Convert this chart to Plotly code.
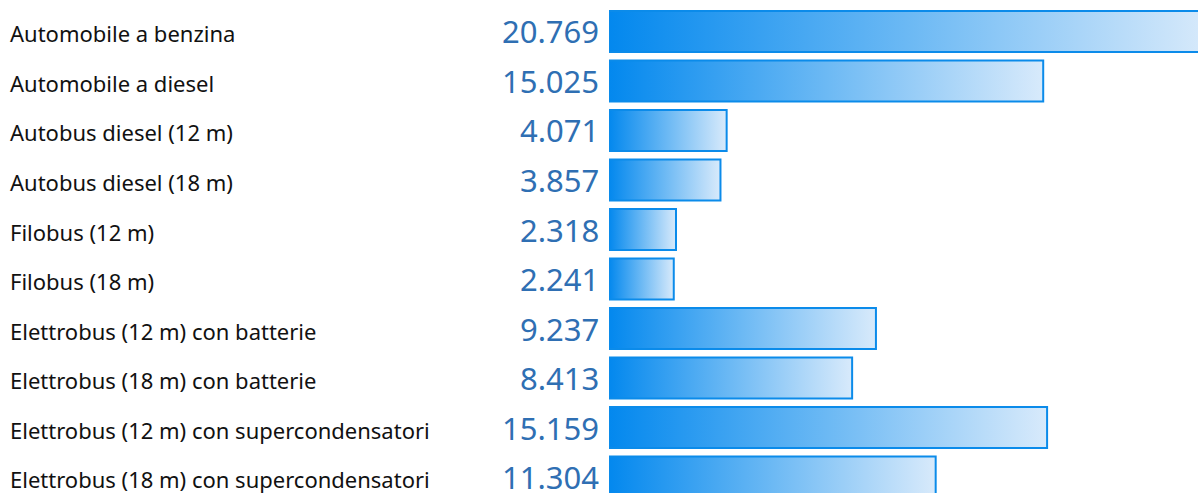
import plotly.graph_objects as go

# Energy/consumption values per vehicle type
categories = [
    "Automobile a benzina",
    "Automobile a diesel",
    "Autobus diesel (12 m)",
    "Autobus diesel (18 m)",
    "Filobus (12 m)",
    "Filobus (18 m)",
    "Elettrobus (12 m) con batterie",
    "Elettrobus (18 m) con batterie",
    "Elettrobus (12 m) con supercondensatori",
    "Elettrobus (18 m) con supercondensatori",
]
values = [20769, 15025, 4071, 3857, 2318, 2241, 9237, 8413, 15159, 11304]
value_labels = ["20.769", "15.025", "4.071", "3.857", "2.318",
                 "2.241", "9.237", "8.413", "15.159", "11.304"]

BAR_HALF = 0.414
BORDER = "#0b8bea"
GRADIENT = [[0.0, "#0388ee"], [0.5, "#6cb9f4"], [1.0, "#d8eafb"]]
VALUE_COLOR = "#2f6fb3"
LABEL_FONT = "Noto Sans"

fig = go.Figure()

for i, (cat, v) in enumerate(zip(categories, values)):
    fig.add_trace(go.Scatter(
        x=[0, v, v, 0, 0],
        y=[i - BAR_HALF, i - BAR_HALF, i + BAR_HALF, i + BAR_HALF, i - BAR_HALF],
        mode="lines",
        line=dict(color=BORDER, width=2),
        fill="toself",
        fillgradient=dict(type="horizontal", colorscale=GRADIENT),
        hoverinfo="skip",
        showlegend=False,
    ))
    # category name on the far left
    fig.add_annotation(
        x=0, xref="paper", xshift=-601, y=i, yref="y", yshift=-2,
        text=cat, showarrow=False, xanchor="left", yanchor="middle",
        font=dict(family=LABEL_FONT, size=22, color="#111111"),
    )
    # value label just before the bar
    fig.add_annotation(
        x=0, xref="x", xshift=-8, y=i, yref="y",
        text=value_labels[i], showarrow=False, xanchor="right", yanchor="middle",
        font=dict(family=LABEL_FONT, size=31, color=VALUE_COLOR),
    )

fig.update_layout(
    width=1198, height=493,
    margin=dict(l=609, r=0, t=0, b=0),
    paper_bgcolor="white", plot_bgcolor="white",
    xaxis=dict(range=[0, 20381], visible=False, fixedrange=True),
    yaxis=dict(range=[9.323, -0.636], visible=False, fixedrange=True),
    showlegend=False,
)

fig.write_html("out.html", config={"displayModeBar": False})
